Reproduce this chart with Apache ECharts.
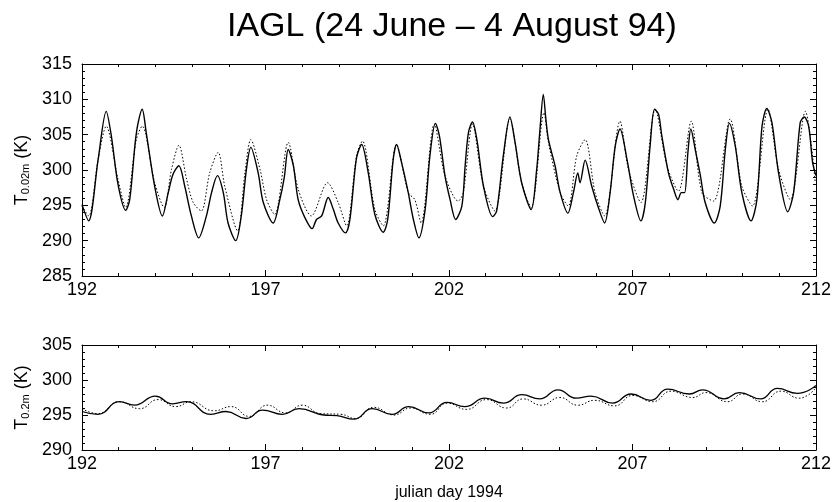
<!DOCTYPE html>
<html>
<head>
<meta charset="utf-8">
<script src="https://cdn.jsdelivr.net/npm/echarts@6/dist/echarts.min.js"></script>
<style>
	html, body { margin: 0; padding: 0; background: #fff; }
	#chart { width: 834px; height: 502px; }
</style>
</head>
<body>
<div id="chart"></div>
<script>
// surface temperature at 0.02 m, [julian day, K]
var obs02 = [
	[192.0,295.1],[192.18,292.8],[192.44,301.5],[192.66,308.3],[192.8,304.8],[192.98,298.0],
	[193.19,294.3],[193.3,295.8],[193.45,303.9],[193.53,306.7],[193.64,308.6],[193.75,305.3],[193.98,297.7],
	[194.19,293.5],[194.35,296.8],[194.48,299.4],[194.64,300.6],[194.8,297.7],[194.98,293.5],
	[195.18,290.4],[195.39,293.5],[195.53,296.8],[195.69,299.2],[195.85,296.8],[195.98,292.5],
	[196.19,290.0],[196.34,293.5],[196.48,300.1],[196.6,303.2],[196.8,299.6],[196.94,295.4],
	[197.21,292.5],[197.39,295.8],[197.51,298.9],[197.62,302.9],[197.76,300.6],[197.89,295.8],
	[198.07,293.3],[198.27,291.7],[198.39,293.0],[198.53,293.5],[198.71,296.1],[198.85,294.4],[198.98,292.5],
	[199.18,291.1],[199.3,293.0],[199.48,301.7],[199.62,303.6],[199.8,299.6],[199.98,293.7],
	[200.21,291.2],[200.33,293.0],[200.48,301.5],[200.57,303.6],[200.71,301.0],[200.89,296.8],[201.03,293.0],
	[201.18,290.4],[201.35,294.4],[201.48,302.0],[201.63,306.6],[201.74,304.8],[201.89,299.2],[202.03,295.8],
	[202.18,293.0],[202.35,294.9],[202.44,300.6],[202.53,305.3],[202.64,306.8],[202.76,304.3],[202.94,297.7],
	[203.19,293.4],[203.3,294.2],[203.48,302.0],[203.66,307.5],[203.8,303.9],[203.98,298.2],
	[204.24,294.4],[204.39,300.1],[204.48,305.8],[204.57,310.7],[204.64,307.2],[204.71,304.3],[204.89,300.6],[205.03,296.8],
	[205.24,293.9],[205.39,296.8],[205.51,299.6],[205.57,298.2],[205.71,301.4],[205.89,297.7],[206.07,294.7],
	[206.24,292.5],[206.39,296.8],[206.53,303.4],[206.66,305.8],[206.85,301.5],[207.03,296.3],
	[207.23,292.8],[207.35,295.4],[207.48,303.4],[207.6,308.6],[207.71,307.9],[207.8,304.8],[207.98,299.6],
	[208.12,297.3],[208.24,295.8],[208.33,296.8],[208.42,296.8],[208.51,302.5],[208.59,305.8],[208.71,302.9],[208.85,299.2],[208.98,295.4],
	[209.23,292.5],[209.39,294.9],[209.53,302.9],[209.64,306.6],[209.8,303.4],[209.98,296.8],
	[210.23,292.8],[210.39,295.8],[210.53,306.2],[210.66,308.7],[210.8,306.7],[210.98,299.6],
	[211.23,294.1],[211.39,296.8],[211.57,306.7],[211.68,307.5],[211.8,306.2],[211.91,301.0],[212.0,299.2]
];
var model02 = [
	[192.0,294.9],[192.18,293.5],[192.44,301.5],[192.66,306.2],[192.98,298.7],
	[193.19,294.7],[193.48,304.3],[193.64,306.2],[193.98,298.2],
	[194.24,294.7],[194.44,300.1],[194.64,303.5],[194.85,298.7],[195.03,295.4],
	[195.25,294.2],[195.48,299.6],[195.71,302.5],[195.89,297.7],
	[196.24,291.4],[196.44,299.6],[196.6,304.3],[196.85,300.1],[197.03,295.8],
	[197.25,293.7],[197.62,303.9],[197.89,297.3],
	[198.25,293.5],[198.69,298.2],[198.98,295.4],
	[199.21,292.1],[199.48,302.0],[199.64,304.1],[199.98,294.4],
	[200.21,292.1],[200.57,303.6],[200.89,296.8],[201.07,295.8],
	[201.24,292.5],[201.6,306.5],[201.89,299.2],
	[202.25,295.6],[202.39,296.8],[202.64,306.5],[202.94,297.7],
	[203.25,294.2],[203.66,307.2],[203.98,298.2],
	[204.24,294.7],[204.59,308.1],[204.71,303.9],[205.03,296.8],
	[205.25,294.9],[205.48,302.0],[205.71,304.3],[205.98,296.8],
	[206.24,293.5],[206.66,306.9],[206.89,300.1],
	[207.23,295.4],[207.62,308.6],[207.94,300.6],
	[208.25,297.0],[208.6,306.9],[208.89,296.8],
	[209.21,295.6],[209.66,307.2],[209.98,297.7],
	[210.27,294.9],[210.69,308.6],[210.98,300.1],
	[211.3,295.8],[211.71,308.3],[211.98,298.2]
];
// temperature at 0.2 m
var obs2 = [
	[192.0,295.5],[192.43,295.1],[193.02,296.9],[193.43,296.4],[194.0,297.7],[194.47,296.6],[194.84,296.9],
	[195.51,295.1],[195.92,295.5],[196.47,294.5],[196.92,295.7],[197.46,295.1],[197.91,295.9],
	[198.59,295.0],[198.95,294.9],[199.41,294.4],[199.91,295.9],[200.45,295.1],[200.9,296.2],
	[201.45,295.3],[201.95,296.8],[202.43,296.2],[202.98,297.4],[203.48,296.7],[203.99,297.9],
	[204.47,297.3],[204.97,298.6],[205.47,297.4],[205.87,297.7],[206.46,296.7],[206.96,298.0],
	[207.5,297.1],[207.96,298.7],[208.55,298.0],[208.91,298.6],[209.5,297.3],[209.91,298.2],
	[210.49,297.3],[210.95,298.8],[211.49,298.1],[212.0,299.2]
];
var model2 = [
	[192.0,295.9],[192.43,295.2],[193.02,296.9],[193.57,295.9],[194.07,297.2],[194.56,296.2],[194.97,296.9],
	[195.6,295.6],[196.06,296.2],[196.56,294.8],[197.05,296.4],[197.55,295.3],[198.0,296.4],
	[198.5,295.2],[199.05,295.1],[199.45,294.5],[199.95,296.1],[200.5,295.0],[200.95,296.0],
	[201.49,295.1],[201.95,296.7],[202.48,295.8],[203.02,297.2],[203.57,296.0],[204.02,297.3],
	[204.52,296.4],[205.02,297.5],[205.51,296.4],[205.97,297.1],[206.51,296.3],[207.01,297.8],
	[207.55,296.9],[208.05,298.4],[208.64,297.5],[209.0,298.2],[209.59,296.9],[210.0,298.0],
	[210.54,296.9],[211.04,298.4],[211.54,297.4],[212.0,298.9]
];
var dayRange = [192, 212];
var topRange = [285, 315];
var botRange = [290, 305];

var chart = echarts.init(document.getElementById('chart'));
var font = 'Liberation Sans, Arial, sans-serif';

function xAx(grid, pos, labels, name) {
	return {
		type: 'value', gridIndex: grid, position: pos,
		min: dayRange[0], max: dayRange[1], interval: 5,
		axisLine: { onZero: false, lineStyle: { color: '#000', width: 1 } },
		axisTick: { inside: true, length: 6, lineStyle: { color: '#000' } },
		minorTick: { show: true, splitNumber: 5, length: 3, lineStyle: { color: '#000' } },
		splitLine: { show: false },
		axisLabel: { show: labels, color: '#000', fontFamily: font, fontSize: 18, margin: 5 },
		name: name || '', nameLocation: 'middle', nameGap: 35,
		nameTextStyle: { color: '#000', fontFamily: font, fontSize: 16 }
	};
}
function yAx(grid, pos, range, labels, sub) {
	return {
		type: 'value', gridIndex: grid, position: pos,
		min: range[0], max: range[1], interval: 5,
		axisLine: { onZero: false, lineStyle: { color: '#000', width: 1 } },
		axisTick: { inside: true, length: 6, lineStyle: { color: '#000' } },
		minorTick: { show: true, splitNumber: 5, length: 3, lineStyle: { color: '#000' } },
		splitLine: { show: false },
		axisLabel: { show: labels, color: '#000', fontFamily: font, fontSize: 18, margin: 10 },
		name: labels ? '{a|T}{b|' + sub + '}{a| (K)}' : '',
		nameLocation: 'middle', nameRotate: 90, nameGap: 50,
		nameTextStyle: {
			rich: {
				a: { color: '#000', fontFamily: font, fontSize: 18, verticalAlign: 'bottom', lineHeight: 22 },
				b: { color: '#000', fontFamily: font, fontSize: 11, verticalAlign: 'bottom', lineHeight: 15 }
			}
		}
	};
}

var option = {
	animation: false,
	backgroundColor: '#fff',
	title: {
		text: 'IAGL (24 June \u2013 4 August 94)',
		left: 222, top: 5,
		textStyle: { color: '#000', fontFamily: font, fontSize: 34, fontWeight: 'normal' }
	},
	grid: [
		{ left: 82, right: 16, top: 64, height: 212 },
		{ left: 82, right: 16, top: 345, height: 106 }
	],
	xAxis: [
		xAx(0, 'bottom', true), xAx(0, 'top', false),
		xAx(1, 'bottom', true, 'julian day 1994'), xAx(1, 'top', false)
	],
	yAxis: [
		yAx(0, 'left', topRange, true, '0.02m'), yAx(0, 'right', topRange, false),
		yAx(1, 'left', botRange, true, '0.2m'), yAx(1, 'right', botRange, false)
	],
	series: [
		{ type: 'line', xAxisIndex: 0, yAxisIndex: 0, data: model02, showSymbol: false, smooth: 0.3,
			lineStyle: { color: '#000', width: 1, type: [1.5, 2] } },
		{ type: 'line', xAxisIndex: 0, yAxisIndex: 0, data: obs02, showSymbol: false, smooth: 0.3,
			lineStyle: { color: '#000', width: 1.4 } },
		{ type: 'line', xAxisIndex: 2, yAxisIndex: 2, data: model2, showSymbol: false, smooth: 0.5,
			lineStyle: { color: '#000', width: 1, type: [1.5, 2] } },
		{ type: 'line', xAxisIndex: 2, yAxisIndex: 2, data: obs2, showSymbol: false, smooth: 0.5,
			lineStyle: { color: '#000', width: 1.3 } }
	]
};
chart.setOption(option);
</script>
</body>
</html>
